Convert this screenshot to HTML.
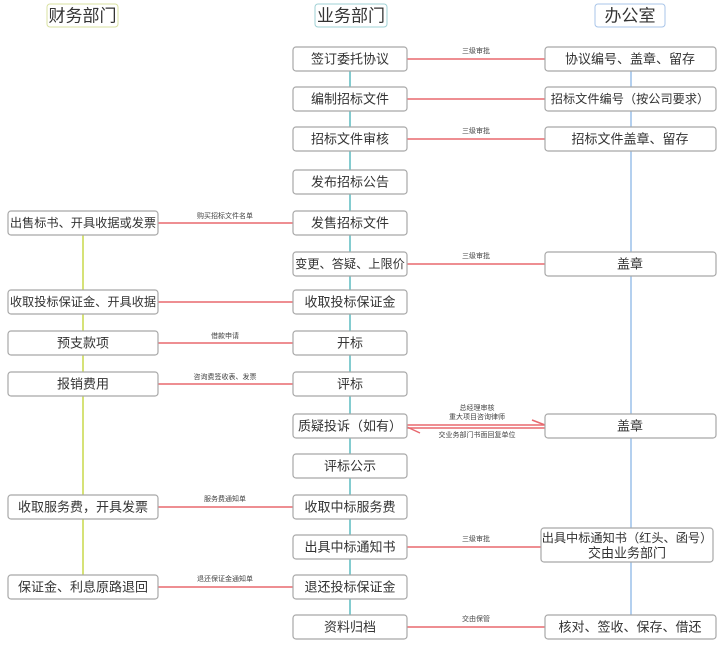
<!DOCTYPE html>
<html><head><meta charset="utf-8"><style>
html,body{margin:0;padding:0;background:#fff;width:724px;height:650px;overflow:hidden}
svg text{font-family:"Liberation Sans","Noto Sans CJK SC",sans-serif;fill:#333}
.b{fill:#fff;stroke:#a8a8a8;stroke-width:1.2}
.t{font-size:13px;text-anchor:middle;dominant-baseline:central}
.n{font-size:12.2px}
.s{font-size:7px;text-anchor:middle;fill:#444}
.r{stroke:#e8686e;stroke-width:1.5}
</style></head><body>
<svg width="724" height="650" xmlns="http://www.w3.org/2000/svg">
<line x1="83" y1="234" x2="83" y2="576" stroke="#c8d84a" stroke-width="1.5"/>
<line x1="350" y1="70" x2="350" y2="616" stroke="#5bbcc0" stroke-width="1.5"/>
<line x1="631" y1="70" x2="631" y2="616" stroke="#9cc0ea" stroke-width="1.5"/>
<rect x="47" y="4" width="71" height="23" rx="3" fill="#fff" stroke="#d8e0a0"/>
<text x="82.5" y="16" class="t" style="font-size:17px">财务部门</text>
<rect x="315" y="4" width="72" height="23" rx="3" fill="#fff" stroke="#9fd0d4"/>
<text x="351" y="16" class="t" style="font-size:17px">业务部门</text>
<rect x="595" y="4" width="70" height="23" rx="3" fill="#fff" stroke="#a8c4e8"/>
<text x="630" y="16" class="t" style="font-size:17px">办公室</text>
<g class="r">
<line x1="407" y1="59" x2="545" y2="59"/>
<line x1="407" y1="99" x2="545" y2="99"/>
<line x1="407" y1="139" x2="545" y2="139"/>
<line x1="158" y1="223" x2="293" y2="223"/>
<line x1="407" y1="264" x2="545" y2="264"/>
<line x1="158" y1="302" x2="293" y2="302"/>
<line x1="158" y1="343" x2="293" y2="343"/>
<line x1="158" y1="384" x2="293" y2="384"/>
<line x1="407" y1="425" x2="545" y2="425"/>
<line x1="407" y1="428" x2="545" y2="428"/>
<line x1="407" y1="427" x2="420" y2="433"/>
<line x1="545" y1="425" x2="532" y2="420"/>
<line x1="158" y1="507" x2="293" y2="507"/>
<line x1="407" y1="547" x2="541" y2="547"/>
<line x1="158" y1="587" x2="293" y2="587"/>
<line x1="407" y1="627" x2="545" y2="627"/>
</g>
<text x="476" y="53" class="s">三级审批</text>
<text x="476" y="133" class="s">三级审批</text>
<text x="225" y="218" class="s">购买招标文件名单</text>
<text x="476" y="258" class="s">三级审批</text>
<text x="225" y="338" class="s">借款申请</text>
<text x="225" y="379" class="s">咨询费签收表、发票</text>
<text x="477" y="410" class="s">总经理审核</text>
<text x="477" y="419" class="s">重大项目咨询律师</text>
<text x="477" y="437" class="s">交业务部门书面回复单位</text>
<text x="225" y="501" class="s">服务费通知单</text>
<text x="476" y="541" class="s">三级审批</text>
<text x="225" y="581" class="s">退还保证金通知单</text>
<text x="476" y="621" class="s">交由保管</text>
<g>
<rect class="b" x="293" y="47" width="114" height="24" rx="3"/><text class="t" x="350" y="59">签订委托协议</text>
<rect class="b" x="293" y="87" width="114" height="24" rx="3"/><text class="t" x="350" y="99">编制招标文件</text>
<rect class="b" x="293" y="127" width="114" height="24" rx="3"/><text class="t" x="350" y="139">招标文件审核</text>
<rect class="b" x="293" y="170" width="114" height="24" rx="3"/><text class="t" x="350" y="182">发布招标公告</text>
<rect class="b" x="293" y="211" width="114" height="24" rx="3"/><text class="t" x="350" y="223">发售招标文件</text>
<rect class="b" x="293" y="252" width="114" height="24" rx="3"/><text class="t n" x="350" y="264">变更、答疑、上限价</text>
<rect class="b" x="293" y="290" width="114" height="24" rx="3"/><text class="t" x="350" y="302">收取投标保证金</text>
<rect class="b" x="293" y="331" width="114" height="24" rx="3"/><text class="t" x="350" y="343">开标</text>
<rect class="b" x="293" y="372" width="114" height="24" rx="3"/><text class="t" x="350" y="384">评标</text>
<rect class="b" x="293" y="414" width="114" height="24" rx="3"/><text class="t" x="350" y="426">质疑投诉（如有）</text>
<rect class="b" x="293" y="454" width="114" height="24" rx="3"/><text class="t" x="350" y="466">评标公示</text>
<rect class="b" x="293" y="495" width="114" height="24" rx="3"/><text class="t" x="350" y="507">收取中标服务费</text>
<rect class="b" x="293" y="535" width="114" height="24" rx="3"/><text class="t" x="350" y="547">出具中标通知书</text>
<rect class="b" x="293" y="575" width="114" height="24" rx="3"/><text class="t" x="350" y="587">退还投标保证金</text>
<rect class="b" x="293" y="615" width="114" height="24" rx="3"/><text class="t" x="350" y="627">资料归档</text>
</g>
<g>
<rect class="b" x="8" y="211" width="150" height="24" rx="3"/><text class="t n" x="83" y="223">出售标书、开具收据或发票</text>
<rect class="b" x="8" y="290" width="150" height="24" rx="3"/><text class="t n" x="83" y="302">收取投标保证金、开具收据</text>
<rect class="b" x="8" y="331" width="150" height="24" rx="3"/><text class="t" x="83" y="343">预支款项</text>
<rect class="b" x="8" y="372" width="150" height="24" rx="3"/><text class="t" x="83" y="384">报销费用</text>
<rect class="b" x="8" y="495" width="150" height="24" rx="3"/><text class="t" x="83" y="507">收取服务费，开具发票</text>
<rect class="b" x="8" y="575" width="150" height="24" rx="3"/><text class="t" x="83" y="587">保证金、利息原路退回</text>
</g>
<g>
<rect class="b" x="545" y="47" width="171" height="24" rx="3"/><text class="t" x="630" y="59">协议编号、盖章、留存</text>
<rect class="b" x="545" y="87" width="171" height="24" rx="3"/><text class="t n" x="630" y="99">招标文件编号（按公司要求）</text>
<rect class="b" x="545" y="127" width="171" height="24" rx="3"/><text class="t" x="630" y="139">招标文件盖章、留存</text>
<rect class="b" x="545" y="252" width="171" height="24" rx="3"/><text class="t" x="630" y="264">盖章</text>
<rect class="b" x="545" y="414" width="171" height="24" rx="3"/><text class="t" x="630" y="426">盖章</text>
<rect class="b" x="541" y="528" width="172" height="34" rx="3"/><text class="t n" x="627" y="538">出具中标通知书（红头、函号）</text><text class="t" x="627" y="553">交由业务部门</text>
<rect class="b" x="545" y="615" width="171" height="24" rx="3"/><text class="t" x="630" y="627">核对、签收、保存、借还</text>
</g>
</svg>
</body></html>
